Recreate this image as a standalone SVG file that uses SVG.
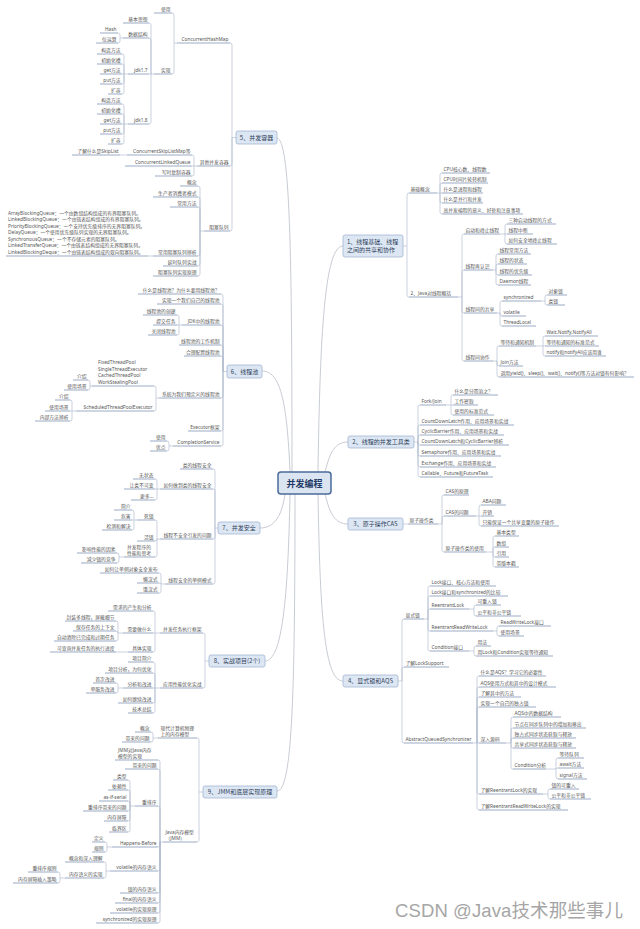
<svg xmlns="http://www.w3.org/2000/svg" width="640" height="929" viewBox="0 0 640 929">
<style>
.t{font-family:"Noto Sans","Noto Sans CJK SC",sans-serif;font-size:4.8px;fill:#555}
.l{text-anchor:end}
.u{stroke:#7088b0;stroke-width:.7;fill:none}
.c{stroke:#aab6c9;stroke-width:.6;fill:none}
.mc{stroke:#c8ccd4;stroke-width:1;fill:none}
.mb{fill:#dde7f3;stroke:#a3b6d3;stroke-width:.8}
.mt{font-family:"Noto Sans CJK SC",sans-serif;font-size:6px;fill:#2f3f5c}
</style>
<rect width="640" height="929" fill="#fff"/>
<g id="connectors">
<path class="mc" d="M318 472C320 330 325 246 343 246M325 472C330 452 335 442 348 442M325 494C330 514 335 524 348 524M318 494C320 620 325 681 343 681M292 472C292 250 290 140 277 138M290 472C287 400 280 371 262 371M285 494C282 515 275 528 260 528M290 494C288 600 282 661 265 661M295 494C295 700 292 791 277 791"/>
<path class="c" d="M236 137.5H232M232 137.5V45Q232 43 230 43M232 137.5V164Q232 166 230 166M232 137.5V229Q232 231 230 231"/>
<path class="c" d="M177 43H174M174 43V15Q174 13 172 13M174 43V72Q174 74 172 74"/>
<path class="c" d="M154 74H151M151 74V25Q151 23 149 23M151 74V40Q151 38 149 38M151 74H149M151 74V122Q151 124 149 124"/>
<path class="c" d="M123 38H120M120 38V35Q120 33 118 33M120 38V41Q120 43 118 43"/>
<path class="c" d="M128 74H124M124 74V56Q124 54 122 54M124 74V66Q124 64 122 64M124 74H122M124 74V82Q124 84 122 84M124 74V92Q124 94 122 94"/>
<path class="c" d="M128 124H124M124 124V106Q124 104 122 104M124 124V116Q124 114 122 114M124 124H122M124 124V132Q124 134 122 134M124 124V142Q124 144 122 144"/>
<path class="c" d="M197 166H194M194 166V157Q194 155 192 155M194 166H192M194 166V174Q194 176 192 176"/>
<path class="c" d="M127 155H120"/>
<path class="c" d="M204 231H200M200 231V188Q200 186 198 186M200 231V199Q200 197 198 197M200 231V209Q200 207 198 207M200 231V254Q200 256 198 256M200 231V264Q200 266 198 266M200 231V274Q200 276 198 276"/>
<path class="c" d="M153 256H148"/>
<path class="c" d="M227 371.5H223M223 371.5V296Q223 294 221 294M223 371.5V306Q223 304 221 304M223 371.5V327Q223 325 221 325M223 371.5V347Q223 345 221 345M223 371.5V358Q223 356 221 356M223 371.5V396Q223 398 221 398M223 371.5V429Q223 431 221 431M223 371.5V444Q223 446 221 446"/>
<path class="c" d="M182 325H179M179 325V317Q179 315 177 315M179 325H177M179 325V333Q179 335 177 335"/>
<path class="c" d="M159 398H156M156 398V388Q156 386 154 386M156 398V409Q156 411 154 411"/>
<path class="c" d="M92 386H90M90 386V382Q90 380 88 380M90 386V388Q90 390 88 390"/>
<path class="c" d="M76 411H72M72 411V402Q72 400 70 400M72 411H70M72 411V419Q72 421 70 421"/>
<path class="c" d="M173 446H169M169 446V443Q169 441 167 441M169 446V449Q169 451 167 451"/>
<path class="c" d="M218 528H215M215 528V471Q215 469 213 469M215 528V491Q215 489 213 489M215 528V537Q215 539 213 539M215 528V582Q215 584 213 584"/>
<path class="c" d="M160 489H157M157 489V481Q157 479 155 479M157 489H155M157 489V498Q157 500 155 500"/>
<path class="c" d="M160 539H157M157 539V522Q157 520 155 520M157 539Q157 541 155 541M157 539V555Q157 557 155 557"/>
<path class="c" d="M137 520H134M134 520V512Q134 510 132 510M134 520H132M134 520V528Q134 530 132 530"/>
<path class="c" d="M124 557H119M119 557V555Q119 553 117 553M119 557V561Q119 563 117 563"/>
<path class="c" d="M165 584H161M161 584V575Q161 573 159 573M161 584Q161 583 159 583M161 584V591Q161 593 159 593"/>
<path class="c" d="M209 661H205M205 661V635Q205 633 203 633M205 661V686Q205 688 203 688"/>
<path class="c" d="M160 633H155M155 633V613Q155 611 153 611M155 633H153M155 633V650Q155 652 153 652"/>
<path class="c" d="M123 633H118M118 633V623Q118 621 116 621M118 633Q118 631 116 631M118 633V639Q118 641 116 641"/>
<path class="c" d="M128 652H116"/>
<path class="c" d="M160 688H155M155 688V664Q155 662 153 662M155 688V675Q155 673 153 673M155 688H153M155 688V701Q155 703 153 703M155 688V711Q155 713 153 713"/>
<path class="c" d="M123 688H118M118 688V685Q118 683 116 683M118 688V691Q118 693 116 693"/>
<path class="c" d="M203 792H199M199 792V740Q199 738 197 738M199 792V840Q199 842 197 842"/>
<path class="c" d="M158 738H153M153 738V734Q153 732 151 732M153 738V740Q153 742 151 742"/>
<path class="c" d="M163 842H160M160 842V762Q160 760 158 760M160 842V771Q160 769 158 769M160 842V808Q160 806 158 806M160 842V845Q160 847 158 847M160 842V869Q160 871 158 871M160 842V891Q160 893 158 893M160 842V901Q160 903 158 903M160 842V911Q160 913 158 913M160 842V921Q160 923 158 923"/>
<path class="c" d="M135 806H130M130 806V782Q130 780 128 780M130 806V792Q130 790 128 790M130 806V803Q130 801 128 801M130 806V809Q130 811 128 811M130 806V819Q130 821 128 821M130 806V830Q130 832 128 832"/>
<path class="c" d="M112 847H107M107 847V844Q107 842 105 842M107 847V850Q107 852 105 852"/>
<path class="c" d="M110 871H106M106 871V864Q106 862 104 862M106 871V876Q106 878 104 878"/>
<path class="c" d="M65 878H60M60 878V874Q60 872 58 872M60 878V881Q60 883 58 883"/>
<path class="c" d="M403 246H407M407 246V195Q407 193 409 193M407 246V295Q407 297 409 297"/>
<path class="c" d="M437 193H440M440 193V175Q440 173 442 173M440 193V185Q440 183 442 183M440 193H442M440 193V201Q440 203 442 203M440 193V212Q440 214 442 214"/>
<path class="c" d="M458 297H462M462 297V236Q462 234 464 234M462 297V272Q462 270 464 270M462 297V311Q462 313 464 313M462 297V359Q462 361 464 361"/>
<path class="c" d="M500 234H505M505 234V226Q505 224 507 224M505 234H507M505 234V242Q505 244 507 244"/>
<path class="c" d="M493 270H496M496 270V256Q496 254 498 254M496 270V266Q496 264 498 264M496 270V273Q496 275 498 275M496 270V283Q496 285 498 285"/>
<path class="c" d="M497 313H500M500 313V303Q500 301 502 301M500 313V314Q500 316 502 316M500 313V324Q500 326 502 326"/>
<path class="c" d="M541 301H545M545 301V297Q545 295 547 295M545 301V303Q545 305 547 305"/>
<path class="c" d="M493 361H497M497 361V348Q497 346 499 346M497 361V364Q497 366 499 366M497 361V375Q497 377 499 377"/>
<path class="c" d="M536 346H543M543 346V338Q543 336 545 336M543 346H545M543 346V354Q543 356 545 356"/>
<path class="c" d="M414 442H418M418 442V407Q418 405 420 405M418 442V427Q418 425 420 425M418 442V437Q418 435 420 435M418 442V443Q418 445 420 445M418 442V454Q418 456 420 456M418 442V465Q418 467 420 467M418 442V475Q418 477 420 477"/>
<path class="c" d="M446 405H451M451 405V397Q451 395 453 395M451 405H453M451 405V413Q451 415 453 415"/>
<path class="c" d="M403 524H408"/>
<path class="c" d="M438 524H442M442 524V497Q442 495 444 495M442 524V518Q442 516 444 516M442 524V550Q442 552 444 552"/>
<path class="c" d="M476 516H479M479 516V507Q479 505 481 505M479 516H481M479 516V524Q479 526 481 526"/>
<path class="c" d="M486 552H493M493 552V538Q493 536 495 536M493 552V549Q493 547 495 547M493 552V555Q493 557 495 557M493 552V565Q493 567 495 567"/>
<path class="c" d="M398 681H402M402 681V621Q402 619 404 619M402 681V669Q402 667 404 667M402 681V741Q402 743 404 743"/>
<path class="c" d="M424 619H428M428 619V588Q428 586 430 586M428 619V598Q428 596 430 596M428 619V611Q428 609 430 609M428 619V629Q428 631 430 631M428 619V649Q428 651 430 651"/>
<path class="c" d="M469 609H474M474 609V607Q474 605 476 605M474 609V614Q474 616 476 616"/>
<path class="c" d="M493 631H497M497 631V628Q497 626 499 626M497 631V634Q497 636 499 636"/>
<path class="c" d="M469 651H474M474 651V648Q474 646 476 646M474 651V654Q474 656 476 656"/>
<path class="c" d="M473 743H477M477 743V678Q477 676 479 676M477 743V689Q477 687 479 687M477 743V699Q477 697 479 697M477 743V709Q477 707 479 707M477 743H479M477 743V792Q477 794 479 794M477 743V808Q477 810 479 810"/>
<path class="c" d="M506 743H511M511 743V719Q511 717 513 717M511 743V730Q511 728 513 728M511 743V740Q511 738 513 738M511 743V746Q511 748 513 748M511 743V767Q511 769 513 769"/>
<path class="c" d="M546 769H556M556 769V760Q556 758 558 758M556 769Q556 768 558 768M556 769V777Q556 779 558 779"/>
<path class="c" d="M543 794H548M548 794V791Q548 789 550 789M548 794V797Q548 799 550 799"/>
</g>
<g id="root"><rect x="278" y="472" width="53" height="22" rx="3" fill="#dbe5f1" stroke="#4a6b9a" stroke-width="1.5"/><text x="304.5" y="486.5" text-anchor="middle" font-family="Noto Sans CJK SC,sans-serif" font-size="9" font-weight="bold" fill="#1f3a66">并发编程</text></g>
<g id="topic1"><rect class="mb" x="343" y="235" width="60" height="22" rx="2"/><text class="mt" x="347" y="244">1、线程基础、线程</text><text class="mt" x="347" y="251.5">之间的共享和协作</text></g>
<g id="topic2"><rect class="mb" x="348" y="436" width="66" height="12" rx="2"/><text class="mt" x="381" y="444.2" text-anchor="middle">2、线程的并发工具类</text></g>
<g id="topic3"><rect class="mb" x="348" y="518" width="55" height="12" rx="2"/><text class="mt" x="375.5" y="526.2" text-anchor="middle">3、原子操作CAS</text></g>
<g id="topic4"><rect class="mb" x="343" y="675" width="55" height="12" rx="2"/><text class="mt" x="370.5" y="683.2" text-anchor="middle">4、显式锁和AQS</text></g>
<g id="topic5"><rect class="mb" x="236" y="131" width="41" height="13" rx="2"/><text class="mt" x="256.5" y="139.7" text-anchor="middle">5、并发容器</text></g>
<g id="topic6"><rect class="mb" x="227" y="365" width="35" height="13" rx="2"/><text class="mt" x="244.5" y="373.7" text-anchor="middle">6、线程池</text></g>
<g id="topic7"><rect class="mb" x="218" y="522" width="42" height="12" rx="2"/><text class="mt" x="239" y="530.2" text-anchor="middle">7、并发安全</text></g>
<g id="topic8"><rect class="mb" x="209" y="655" width="56" height="12" rx="2"/><text class="mt" x="237" y="663.2" text-anchor="middle">8、实战项目(2个)</text></g>
<g id="topic9"><rect class="mb" x="203" y="786" width="74" height="12" rx="2"/><text class="mt" x="240" y="794.2" text-anchor="middle">9、JMM和底层实现原理</text></g>
<g id="n5a"><path class="u" d="M177 43H230"/><text class="t l" x="228.5" y="41">ConcurrentHashMap</text></g>
<g id="n5a1"><path class="u" d="M154 13H172"/><text class="t l" x="170.5" y="11">使用</text></g>
<g id="n5a2"><path class="u" d="M154 74H172"/><text class="t l" x="170.5" y="72">实现</text></g>
<g id="n5a2a"><path class="u" d="M123 23H149"/><text class="t l" x="147.5" y="21">基本思想</text></g>
<g id="n5a2b"><path class="u" d="M123 38H149"/><text class="t l" x="147.5" y="36">数据结构</text></g>
<g id="n5a2b1"><path class="u" d="M100 33H118"/><text class="t l" x="116.5" y="31">Hash</text></g>
<g id="n5a2b2"><path class="u" d="M96 43H118"/><text class="t l" x="116.5" y="41">位运算</text></g>
<g id="n5a2c"><path class="u" d="M128 74H149"/><text class="t l" x="147.5" y="72">jdk1.7</text></g>
<g id="n5a2c1"><path class="u" d="M97 54H122"/><text class="t l" x="120.5" y="52">构造方法</text></g>
<g id="n5a2c2"><path class="u" d="M97 64H122"/><text class="t l" x="120.5" y="62">初始化槽</text></g>
<g id="n5a2c3"><path class="u" d="M100 74H122"/><text class="t l" x="120.5" y="72">get方法</text></g>
<g id="n5a2c4"><path class="u" d="M100 84H122"/><text class="t l" x="120.5" y="82">put方法</text></g>
<g id="n5a2c5"><path class="u" d="M108 94H122"/><text class="t l" x="120.5" y="92">扩容</text></g>
<g id="n5a2d"><path class="u" d="M128 124H149"/><text class="t l" x="147.5" y="122">jdk1.8</text></g>
<g id="n5a2d1"><path class="u" d="M97 104H122"/><text class="t l" x="120.5" y="102">构造方法</text></g>
<g id="n5a2d2"><path class="u" d="M97 114H122"/><text class="t l" x="120.5" y="112">初始化槽</text></g>
<g id="n5a2d3"><path class="u" d="M100 124H122"/><text class="t l" x="120.5" y="122">get方法</text></g>
<g id="n5a2d4"><path class="u" d="M100 134H122"/><text class="t l" x="120.5" y="132">put方法</text></g>
<g id="n5a2d5"><path class="u" d="M108 144H122"/><text class="t l" x="120.5" y="142">扩容</text></g>
<g id="n5b"><path class="u" d="M197 166H230"/><text class="t l" x="228.5" y="164">其他并发容器</text></g>
<g id="n5b1"><path class="u" d="M127 155H192"/><text class="t l" x="190.5" y="153">ConcurrentSkipListMap等</text></g>
<g id="n5b1a"><path class="u" d="M72 155H120"/><text class="t l" x="118.5" y="153">了解什么是SkipList</text></g>
<g id="n5b2"><path class="u" d="M125 166H192"/><text class="t l" x="190.5" y="164">ConcurrentLinkedQueue</text></g>
<g id="n5b3"><path class="u" d="M155 176H192"/><text class="t l" x="190.5" y="174">写时复制容器</text></g>
<g id="n5c"><path class="u" d="M204 231H230"/><text class="t l" x="228.5" y="229">阻塞队列</text></g>
<g id="n5c1"><path class="u" d="M180 186H198"/><text class="t l" x="196.5" y="184">概念</text></g>
<g id="n5c2"><path class="u" d="M153 197H198"/><text class="t l" x="196.5" y="195">生产者消费者模式</text></g>
<g id="n5c3"><path class="u" d="M170 207H198"/><text class="t l" x="196.5" y="205">常用方法</text></g>
<g id="n5c4"><path class="u" d="M153 256H198"/><text class="t l" x="196.5" y="254">常用阻塞队列辨析</text></g>
<g id="n5c4a"><path class="u" d="M6 256H148"/><text class="t" x="8" y="214.5">ArrayBlockingQueue：一个由数组结构组成的有界阻塞队列。</text><text class="t" x="8" y="221">LinkedBlockingQueue：一个由链表结构组成的有界阻塞队列。</text><text class="t" x="8" y="227.5">PriorityBlockingQueue：一个支持优先级排序的无界阻塞队列。</text><text class="t" x="8" y="234">DelayQueue：一个使用优先级队列实现的无界阻塞队列。</text><text class="t" x="8" y="240.5">SynchronousQueue：一个不存储元素的阻塞队列。</text><text class="t" x="8" y="247">LinkedTransferQueue：一个由链表结构组成的无界阻塞队列。</text><text class="t" x="8" y="253.5">LinkedBlockingDeque：一个由链表结构组成的双向阻塞队列。</text></g>
<g id="n5c5"><path class="u" d="M163 266H198"/><text class="t l" x="196.5" y="264">延时队列实战</text></g>
<g id="n5c6"><path class="u" d="M153 276H198"/><text class="t l" x="196.5" y="274">阻塞队列实现原理</text></g>
<g id="n6a"><path class="u" d="M138 294H221"/><text class="t l" x="219.5" y="292">什么是线程池？为什么要用线程池？</text></g>
<g id="n6b"><path class="u" d="M157 304H221"/><text class="t l" x="219.5" y="302">实现一个我们自己的线程池</text></g>
<g id="n6c"><path class="u" d="M182 325H221"/><text class="t l" x="219.5" y="323">JDK中的线程池</text></g>
<g id="n6c1"><path class="u" d="M143 315H177"/><text class="t l" x="175.5" y="313">线程池的创建</text></g>
<g id="n6c2"><path class="u" d="M153 325H177"/><text class="t l" x="175.5" y="323">提交任务</text></g>
<g id="n6c3"><path class="u" d="M148 335H177"/><text class="t l" x="175.5" y="333">关闭线程池</text></g>
<g id="n6d"><path class="u" d="M179 345H221"/><text class="t l" x="219.5" y="343">线程池的工作机制</text></g>
<g id="n6e"><path class="u" d="M184 356H221"/><text class="t l" x="219.5" y="354">合理配置线程池</text></g>
<g id="n6f"><path class="u" d="M159 398H221"/><text class="t l" x="219.5" y="396">系统为我们预定义的线程池</text></g>
<g id="n6f1"><path class="u" d="M92 386H154"/><text class="t" x="98" y="364">FixedThreadPool</text><text class="t" x="98" y="370.5">SingleThreadExecutor</text><text class="t" x="98" y="377">CachedThreadPool</text><text class="t" x="98" y="383.5">WorkStealingPool</text></g>
<g id="n6f1a"><path class="u" d="M73 380H88"/><text class="t l" x="86.5" y="378">介绍</text></g>
<g id="n6f1b"><path class="u" d="M64 390H88"/><text class="t l" x="86.5" y="388">使用场景</text></g>
<g id="n6f2"><path class="u" d="M76 411H154"/><text class="t l" x="152.5" y="409">ScheduledThreadPoolExecutor</text></g>
<g id="n6f2a"><path class="u" d="M55 400H70"/><text class="t l" x="68.5" y="398">介绍</text></g>
<g id="n6f2b"><path class="u" d="M45 411H70"/><text class="t l" x="68.5" y="409">使用场景</text></g>
<g id="n6f2c"><path class="u" d="M35 421H70"/><text class="t l" x="68.5" y="419">内部方法辨析</text></g>
<g id="n6g"><path class="u" d="M188 431H221"/><text class="t l" x="219.5" y="429">Executor框架</text></g>
<g id="n6h"><path class="u" d="M173 446H221"/><text class="t l" x="219.5" y="444">CompletionService</text></g>
<g id="n6h1"><path class="u" d="M150 441H167"/><text class="t l" x="165.5" y="439">使用</text></g>
<g id="n6h2"><path class="u" d="M150 451H167"/><text class="t l" x="165.5" y="449">优点</text></g>
<g id="n7a"><path class="u" d="M180 469H213"/><text class="t l" x="211.5" y="467">类的线程安全</text></g>
<g id="n7b"><path class="u" d="M160 489H213"/><text class="t l" x="211.5" y="487">如何做到类的线程安全</text></g>
<g id="n7b1"><path class="u" d="M133 479H155"/><text class="t l" x="153.5" y="477">无状态</text></g>
<g id="n7b2"><path class="u" d="M124 489H155"/><text class="t l" x="153.5" y="487">让类不可变</text></g>
<g id="n7b3"><path class="u" d="M131 500H155"/><text class="t l" x="153.5" y="498">更多...</text></g>
<g id="n7c"><path class="u" d="M160 539H213"/><text class="t l" x="211.5" y="537">线程不安全引发的问题</text></g>
<g id="n7c1"><path class="u" d="M137 520H155"/><text class="t l" x="153.5" y="518">死锁</text></g>
<g id="n7c1a"><path class="u" d="M114 510H132"/><text class="t l" x="130.5" y="508">简介</text></g>
<g id="n7c1b"><path class="u" d="M114 520H132"/><text class="t l" x="130.5" y="518">危害</text></g>
<g id="n7c1c"><path class="u" d="M102 530H132"/><text class="t l" x="130.5" y="528">检测和解决</text></g>
<g id="n7c2"><path class="u" d="M137 541H155"/><text class="t l" x="153.5" y="539">活锁</text></g>
<g id="n7c3"><path class="u" d="M124 557H155"/><text class="t" x="127" y="549">并发程序的</text><text class="t" x="127" y="555">性能和思考</text></g>
<g id="n7c3a"><path class="u" d="M77 553H117"/><text class="t l" x="115.5" y="551">影响性能的因素</text></g>
<g id="n7c3b"><path class="u" d="M81 563H117"/><text class="t l" x="115.5" y="561">减少锁的竞争</text></g>
<g id="n7d"><path class="u" d="M165 584H213"/><text class="t l" x="211.5" y="582">线程安全的单例模式</text></g>
<g id="n7d1"><path class="u" d="M100 573H159"/><text class="t l" x="157.5" y="571">如何让单例对象安全发布</text></g>
<g id="n7d2"><path class="u" d="M137 583H159"/><text class="t l" x="157.5" y="581">懒汉式</text></g>
<g id="n7d3"><path class="u" d="M137 593H159"/><text class="t l" x="157.5" y="591">饿汉式</text></g>
<g id="n8a"><path class="u" d="M160 633H203"/><text class="t l" x="201.5" y="631">并发任务执行框架</text></g>
<g id="n8a1"><path class="u" d="M108 611H153"/><text class="t l" x="151.5" y="609">需求的产生和分析</text></g>
<g id="n8a2"><path class="u" d="M123 633H153"/><text class="t l" x="151.5" y="631">需要做什么</text></g>
<g id="n8a2a"><path class="u" d="M65 621H116"/><text class="t l" x="114.5" y="619">封装多线程，屏蔽细节</text></g>
<g id="n8a2b"><path class="u" d="M73 631H116"/><text class="t l" x="114.5" y="629">保存任务的上下文</text></g>
<g id="n8a2c"><path class="u" d="M54 641H116"/><text class="t l" x="114.5" y="639">自动清除已完成和过期任务</text></g>
<g id="n8a3"><path class="u" d="M128 652H153"/><text class="t l" x="151.5" y="650">具体实现</text></g>
<g id="n8a3a"><path class="u" d="M50 652H116"/><text class="t l" x="114.5" y="650">可查询并发任务的执行进度</text></g>
<g id="n8b"><path class="u" d="M160 688H203"/><text class="t l" x="201.5" y="686">应用性能优化实战</text></g>
<g id="n8b1"><path class="u" d="M128 662H153"/><text class="t l" x="151.5" y="660">项目简介</text></g>
<g id="n8b2"><path class="u" d="M105 673H153"/><text class="t l" x="151.5" y="671">项目分析，为何优化</text></g>
<g id="n8b3"><path class="u" d="M123 688H153"/><text class="t l" x="151.5" y="686">分析和改进</text></g>
<g id="n8b3a"><path class="u" d="M93 683H116"/><text class="t l" x="114.5" y="681">首次改进</text></g>
<g id="n8b3b"><path class="u" d="M86 693H116"/><text class="t l" x="114.5" y="691">单服务改进</text></g>
<g id="n8b4"><path class="u" d="M118 703H153"/><text class="t l" x="151.5" y="701">如何继续改进</text></g>
<g id="n8b5"><path class="u" d="M128 713H153"/><text class="t l" x="151.5" y="711">技术总结</text></g>
<g id="n9a"><path class="u" d="M158 738H197"/><text class="t" x="160.5" y="729.5">现代计算机物理</text><text class="t" x="160.5" y="736">上的内存模型</text></g>
<g id="n9a1"><path class="u" d="M135 732H151"/><text class="t l" x="149.5" y="730">概念</text></g>
<g id="n9a2"><path class="u" d="M122 742H151"/><text class="t l" x="149.5" y="740">带来的问题</text></g>
<g id="n9b"><path class="u" d="M163 842H197"/><text class="t" x="165.5" y="833.5">Java内存模型</text><text class="t" x="165.5" y="840">（JMM）</text></g>
<g id="n9b1"><path class="u" d="M115 760H158"/><text class="t" x="118" y="751.5">JMM对Java内存</text><text class="t" x="118" y="758">模型的实现</text></g>
<g id="n9b2"><path class="u" d="M125 769H158"/><text class="t l" x="156.5" y="767">带来的问题</text></g>
<g id="n9b3"><path class="u" d="M135 806H158"/><text class="t l" x="156.5" y="804">重排序</text></g>
<g id="n9b3a"><path class="u" d="M113 780H128"/><text class="t l" x="126.5" y="778">类型</text></g>
<g id="n9b3b"><path class="u" d="M108 790H128"/><text class="t l" x="126.5" y="788">依赖性</text></g>
<g id="n9b3c"><path class="u" d="M99 801H128"/><text class="t l" x="126.5" y="799">as-if-serial</text></g>
<g id="n9b3d"><path class="u" d="M83 811H128"/><text class="t l" x="126.5" y="809">重排序带来的问题</text></g>
<g id="n9b3e"><path class="u" d="M104 821H128"/><text class="t l" x="126.5" y="819">内存屏障</text></g>
<g id="n9b3f"><path class="u" d="M109 832H128"/><text class="t l" x="126.5" y="830">临界区</text></g>
<g id="n9b4"><path class="u" d="M112 847H158"/><text class="t l" x="156.5" y="845">Happens-Before</text></g>
<g id="n9b4a"><path class="u" d="M92 842H105"/><text class="t l" x="103.5" y="840">定义</text></g>
<g id="n9b4b"><path class="u" d="M92 852H105"/><text class="t l" x="103.5" y="850">规则</text></g>
<g id="n9b5"><path class="u" d="M110 871H158"/><text class="t l" x="156.5" y="869">volatile的内存语义</text></g>
<g id="n9b5a"><path class="u" d="M65 862H104"/><text class="t l" x="102.5" y="860">概念和深入理解</text></g>
<g id="n9b5b"><path class="u" d="M65 878H104"/><text class="t l" x="102.5" y="876">内存语义的实现</text></g>
<g id="n9b5b1"><path class="u" d="M28 872H58"/><text class="t l" x="56.5" y="870">重排序规则</text></g>
<g id="n9b5b2"><path class="u" d="M13 883H58"/><text class="t l" x="56.5" y="881">内存屏障插入策略</text></g>
<g id="n9b6"><path class="u" d="M120 893H158"/><text class="t l" x="156.5" y="891">锁的内存语义</text></g>
<g id="n9b7"><path class="u" d="M115 903H158"/><text class="t l" x="156.5" y="901">final的内存语义</text></g>
<g id="n9b8"><path class="u" d="M110 913H158"/><text class="t l" x="156.5" y="911">volatile的实现原理</text></g>
<g id="n9b9"><path class="u" d="M96 923H158"/><text class="t l" x="156.5" y="921">synchronized的实现原理</text></g>
<g id="n1a"><path class="u" d="M409 193H437"/><text class="t" x="410.5" y="191">基础概念</text></g>
<g id="n1a1"><path class="u" d="M442 173H490"/><text class="t" x="443.5" y="171">CPU核心数、线程数</text></g>
<g id="n1a2"><path class="u" d="M442 183H488"/><text class="t" x="443.5" y="181">CPU时间片轮转机制</text></g>
<g id="n1a3"><path class="u" d="M442 193H483"/><text class="t" x="443.5" y="191">什么是进程和线程</text></g>
<g id="n1a4"><path class="u" d="M442 203H483"/><text class="t" x="443.5" y="201">什么是并行和并发</text></g>
<g id="n1a5"><path class="u" d="M442 214H523"/><text class="t" x="443.5" y="212">高并发编程的意义、好处和注意事项</text></g>
<g id="n1b"><path class="u" d="M409 297H458"/><text class="t" x="410.5" y="295">2、Java对线程概括</text></g>
<g id="n1b1"><path class="u" d="M464 234H500"/><text class="t" x="465.5" y="232">启动和终止线程</text></g>
<g id="n1b1a"><path class="u" d="M507 224H556"/><text class="t" x="508.5" y="222">三种启动线程的方式</text></g>
<g id="n1b1b"><path class="u" d="M507 234H533"/><text class="t" x="508.5" y="232">线程中断</text></g>
<g id="n1b1c"><path class="u" d="M507 244H557"/><text class="t" x="508.5" y="242">如何安全地终止线程</text></g>
<g id="n1b2"><path class="u" d="M464 270H493"/><text class="t" x="465.5" y="268">线程再认识</text></g>
<g id="n1b2a"><path class="u" d="M498 254H531"/><text class="t" x="499.5" y="252">线程常用方法</text></g>
<g id="n1b2b"><path class="u" d="M498 264H527"/><text class="t" x="499.5" y="262">线程的状态</text></g>
<g id="n1b2c"><path class="u" d="M498 275H532"/><text class="t" x="499.5" y="273">线程的优先级</text></g>
<g id="n1b2d"><path class="u" d="M498 285H531"/><text class="t" x="499.5" y="283">Daemon线程</text></g>
<g id="n1b3"><path class="u" d="M464 313H497"/><text class="t" x="465.5" y="311">线程间的共享</text></g>
<g id="n1b3a"><path class="u" d="M502 301H541"/><text class="t" x="503.5" y="299">synchronized</text></g>
<g id="n1b3a1"><path class="u" d="M547 295H567"/><text class="t" x="548.5" y="293">对象锁</text></g>
<g id="n1b3a2"><path class="u" d="M547 305H565"/><text class="t" x="548.5" y="303">类锁</text></g>
<g id="n1b3b"><path class="u" d="M502 316H526"/><text class="t" x="503.5" y="314">volatile</text></g>
<g id="n1b3c"><path class="u" d="M502 326H536"/><text class="t" x="503.5" y="324">ThreadLocal</text></g>
<g id="n1b4"><path class="u" d="M464 361H493"/><text class="t" x="465.5" y="359">线程间协作</text></g>
<g id="n1b4a"><path class="u" d="M499 346H536"/><text class="t" x="500.5" y="344">等待和通知机制</text></g>
<g id="n1b4a1"><path class="u" d="M545 336H598"/><text class="t" x="546.5" y="334">Wait,Notify,NotifyAll</text></g>
<g id="n1b4a2"><path class="u" d="M545 346H599"/><text class="t" x="546.5" y="344">等待和通知的标准范式</text></g>
<g id="n1b4a3"><path class="u" d="M545 356H606"/><text class="t" x="546.5" y="354">notify和notifyAll应该用谁</text></g>
<g id="n1b4b"><path class="u" d="M499 366H523"/><text class="t" x="500.5" y="364">Join方法</text></g>
<g id="n1b4c"><path class="u" d="M499 377H634"/><text class="t" x="500.5" y="375">调用yield()、sleep()、wait()、notify()等方法对锁有何影响？</text></g>
<g id="n2a"><path class="u" d="M420 405H446"/><text class="t" x="421.5" y="403">Fork/Join</text></g>
<g id="n2a1"><path class="u" d="M453 395H498"/><text class="t" x="454.5" y="393">什么是分而治之？</text></g>
<g id="n2a2"><path class="u" d="M453 405H478"/><text class="t" x="454.5" y="403">工作密取</text></g>
<g id="n2a3"><path class="u" d="M453 415H494"/><text class="t" x="454.5" y="413">使用的标准范式</text></g>
<g id="n2b"><path class="u" d="M420 425H514"/><text class="t" x="421.5" y="423">CountDownLatch作用、应用场景和实战</text></g>
<g id="n2c"><path class="u" d="M420 435H504"/><text class="t" x="421.5" y="433">CyclicBarrier作用、应用场景和实战</text></g>
<g id="n2d"><path class="u" d="M420 445H509"/><text class="t" x="421.5" y="443">CountDownLatch和CyclicBarrier辨析</text></g>
<g id="n2e"><path class="u" d="M420 456H501"/><text class="t" x="421.5" y="454">Semaphore作用、应用场景和实战</text></g>
<g id="n2f"><path class="u" d="M420 467H496"/><text class="t" x="421.5" y="465">Exchange作用、应用场景和实战</text></g>
<g id="n2g"><path class="u" d="M420 477H493"/><text class="t" x="421.5" y="475">Callable、Future和FutureTask</text></g>
<g id="n3a"><path class="u" d="M408 524H438"/><text class="t" x="409.5" y="522">原子操作类</text></g>
<g id="n3a1"><path class="u" d="M444 495H469"/><text class="t" x="445.5" y="493">CAS的原理</text></g>
<g id="n3a2"><path class="u" d="M444 516H476"/><text class="t" x="445.5" y="514">CAS的问题</text></g>
<g id="n3a2a"><path class="u" d="M481 505H506"/><text class="t" x="482.5" y="503">ABA问题</text></g>
<g id="n3a2b"><path class="u" d="M481 516H494"/><text class="t" x="482.5" y="514">开销</text></g>
<g id="n3a2c"><path class="u" d="M481 526H559"/><text class="t" x="482.5" y="524">只能保证一个共享变量的原子操作</text></g>
<g id="n3a3"><path class="u" d="M444 552H486"/><text class="t" x="445.5" y="550">原子操作类的使用</text></g>
<g id="n3a3a"><path class="u" d="M495 536H519"/><text class="t" x="496.5" y="534">基本类型</text></g>
<g id="n3a3b"><path class="u" d="M495 547H509"/><text class="t" x="496.5" y="545">数组</text></g>
<g id="n3a3c"><path class="u" d="M495 557H509"/><text class="t" x="496.5" y="555">引用</text></g>
<g id="n3a3d"><path class="u" d="M495 567H519"/><text class="t" x="496.5" y="565">带版本戳</text></g>
<g id="n4a"><path class="u" d="M404 619H424"/><text class="t" x="405.5" y="617">显式锁</text></g>
<g id="n4a1"><path class="u" d="M430 586H496"/><text class="t" x="431.5" y="584">Lock接口、核心方法和使用</text></g>
<g id="n4a2"><path class="u" d="M430 596H508"/><text class="t" x="431.5" y="594">Lock接口和synchronized的比较</text></g>
<g id="n4a3"><path class="u" d="M430 609H469"/><text class="t" x="431.5" y="607">ReentrantLock</text></g>
<g id="n4a3a"><path class="u" d="M476 605H501"/><text class="t" x="477.5" y="603">可重入锁</text></g>
<g id="n4a3b"><path class="u" d="M476 616H521"/><text class="t" x="477.5" y="614">公平和非公平锁</text></g>
<g id="n4a4"><path class="u" d="M430 631H493"/><text class="t" x="431.5" y="629">ReentrantReadWriteLock</text></g>
<g id="n4a4a"><path class="u" d="M499 626H551"/><text class="t" x="500.5" y="624">ReadWriteLock接口</text></g>
<g id="n4a4b"><path class="u" d="M499 636H524"/><text class="t" x="500.5" y="634">使用场景</text></g>
<g id="n4a5"><path class="u" d="M430 651H469"/><text class="t" x="431.5" y="649">Condition接口</text></g>
<g id="n4a5a"><path class="u" d="M476 646H491"/><text class="t" x="477.5" y="644">用法</text></g>
<g id="n4a5b"><path class="u" d="M476 656H553"/><text class="t" x="477.5" y="654">用Lock和Condition实现等待通知</text></g>
<g id="n4b"><path class="u" d="M404 667H449"/><text class="t" x="405.5" y="665">了解LockSupport</text></g>
<g id="n4c"><path class="u" d="M404 743H473"/><text class="t" x="405.5" y="741">AbstractQueuedSynchronizer</text></g>
<g id="n4c1"><path class="u" d="M479 676H546"/><text class="t" x="480.5" y="674">什么是AQS？学习它的必要性</text></g>
<g id="n4c2"><path class="u" d="M479 687H556"/><text class="t" x="480.5" y="685">AQS使用方式和其中的设计模式</text></g>
<g id="n4c3"><path class="u" d="M479 697H521"/><text class="t" x="480.5" y="695">了解其中的方法</text></g>
<g id="n4c4"><path class="u" d="M479 707H536"/><text class="t" x="480.5" y="705">实现一个自己的独占锁</text></g>
<g id="n4c5"><path class="u" d="M479 743H506"/><text class="t" x="480.5" y="741">深入源码</text></g>
<g id="n4c5a"><path class="u" d="M513 717H561"/><text class="t" x="514.5" y="715">AQS中的数据结构</text></g>
<g id="n4c5b"><path class="u" d="M513 728H586"/><text class="t" x="514.5" y="726">节点在同步队列中的增加和移出</text></g>
<g id="n4c5c"><path class="u" d="M513 738H576"/><text class="t" x="514.5" y="736">独占式同步状态获取与释放</text></g>
<g id="n4c5d"><path class="u" d="M513 748H576"/><text class="t" x="514.5" y="746">共享式同步状态获取与释放</text></g>
<g id="n4c5e"><path class="u" d="M513 769H546"/><text class="t" x="514.5" y="767">Condition分析</text></g>
<g id="n4c5e1"><path class="u" d="M558 758H584"/><text class="t" x="559.5" y="756">等待队列</text></g>
<g id="n4c5e2"><path class="u" d="M558 768H584"/><text class="t" x="559.5" y="766">await方法</text></g>
<g id="n4c5e3"><path class="u" d="M558 779H587"/><text class="t" x="559.5" y="777">signal方法</text></g>
<g id="n4c6"><path class="u" d="M479 794H543"/><text class="t" x="480.5" y="792">了解ReentrantLock的实现</text></g>
<g id="n4c6a"><path class="u" d="M550 789H579"/><text class="t" x="551.5" y="787">锁的可重入</text></g>
<g id="n4c6b"><path class="u" d="M550 799H591"/><text class="t" x="551.5" y="797">公平和非公平锁</text></g>
<g id="n4c7"><path class="u" d="M479 810H568"/><text class="t" x="480.5" y="808">了解ReentrantReadWriteLock的实现</text></g>
<g id="watermark"><text x="395" y="917" font-family="Liberation Sans,Noto Sans CJK SC,sans-serif" font-size="18.5" textLength="228" fill="#a6a6a6">CSDN @Java技术那些事儿</text></g>
</svg>
